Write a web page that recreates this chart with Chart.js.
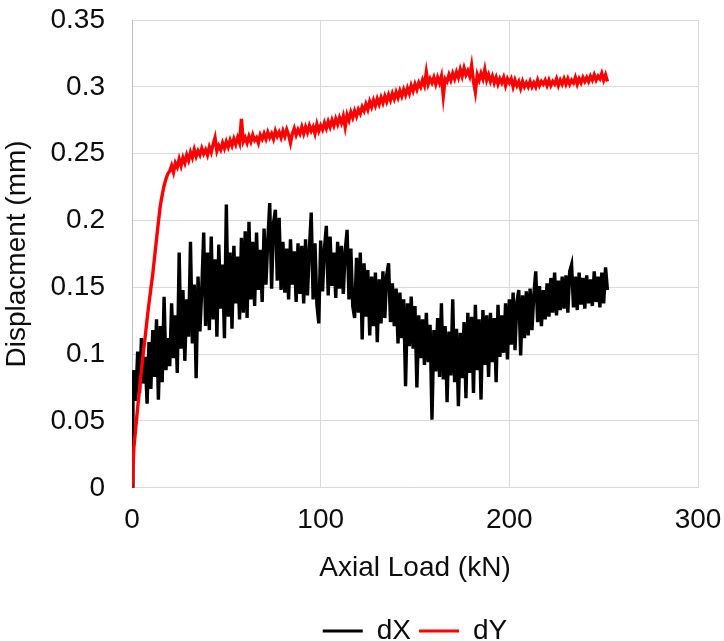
<!DOCTYPE html>
<html>
<head>
<meta charset="utf-8">
<script src="https://cdn.jsdelivr.net/npm/chart.js@4/dist/chart.umd.min.js"></script>
<style>
  html, body { margin: 0; padding: 0; background: #ffffff; }
  #wrap { position: relative; width: 724px; height: 641px; }
</style>
</head>
<body>
<div id="wrap"><canvas id="c" width="724" height="641"></canvas></div>
<script>
// ---- data ----
const seriesNames = ['dX', 'dY'];

const dXLoad = [0,0.5,
  1,2,3,4,5,6,7,8,9,10,11,12,13,14,15,16,17,18,19,20,
  21,22,23,24,25,26,27,28,29,30,31,32,33,34,35,36,37,38,39,40,
  41,42,43,44,45,46,47,48,49,50,51,52,53,54,55,56,57,58,59,60,
  61,62,63,64,65,66,67,68,69,70,71,72,73,74,75,76,77,78,79,80,
  81,82,83,84,85,86,87,88,89,90,91,92,93,94,95,96,97,98,99,100,
  101,102,103,104,105,106,107,108,109,110,111,112,113,114,115,116,117,118,119,120,
  121,122,123,124,125,126,127,128,129,130,131,132,133,134,135,136,137,138,139,140,
  141,142,143,144,145,146,147,148,149,150,151,152,153,154,155,156,157,158,159,160,
  161,162,163,164,165,166,167,168,169,170,171,172,173,174,175,176,177,178,179,180,
  181,182,183,184,185,186,187,188,189,190,191,192,193,194,195,196,197,198,199,200,
  201,202,203,204,205,206,207,208,209,210,211,212,213,214,215,216,217,218,219,220,
  221,222,223,224,225,226,227,228,229,230,231,232,233,234,235,236,237,238,239,240,
  241,242,243,244,245,246,247,248,249,250,251,252];

const dXValues = [0,0.075,
  0.088,0.065,0.102,0.071,0.112,0.078,0.098,0.063,0.109,
  0.074,0.118,0.083,0.126,0.066,0.121,0.079,0.143,0.088,0.112,
  0.091,0.138,0.097,0.129,0.086,0.176,0.104,0.148,0.095,0.141,
  0.113,0.184,0.108,0.152,0.082,0.158,0.117,0.149,0.191,0.121,
  0.176,0.118,0.188,0.126,0.171,0.113,0.182,0.134,0.167,0.112,
  0.212,0.128,0.176,0.119,0.181,0.138,0.173,0.126,0.187,0.131,
  0.192,0.127,0.199,0.141,0.184,0.136,0.191,0.148,0.178,0.139,
  0.194,0.152,0.186,0.213,0.149,0.198,0.208,0.155,0.202,0.148,
  0.184,0.146,0.179,0.141,0.186,0.152,0.177,0.139,0.183,0.145,
  0.181,0.138,0.186,0.144,0.178,0.206,0.141,0.183,0.137,0.123,
  0.185,0.147,0.179,0.196,0.144,0.188,0.151,0.176,0.142,0.184,
  0.149,0.181,0.145,0.177,0.193,0.141,0.179,0.136,0.127,0.172,
  0.131,0.176,0.111,0.168,0.128,0.163,0.114,0.158,0.121,0.161,
  0.109,0.156,0.123,0.162,0.127,0.159,0.168,0.124,0.153,0.121,
  0.149,0.108,0.146,0.112,0.141,0.076,0.138,0.106,0.143,0.104,
  0.136,0.075,0.129,0.097,0.126,0.092,0.131,0.094,0.122,0.051,
  0.118,0.087,0.127,0.083,0.138,0.081,0.121,0.064,0.117,0.084,
  0.141,0.079,0.119,0.061,0.116,0.082,0.124,0.067,0.131,0.086,
  0.128,0.071,0.137,0.088,0.126,0.066,0.133,0.092,0.129,0.083,
  0.131,0.094,0.127,0.079,0.137,0.098,0.129,0.101,0.138,0.096,
  0.141,0.107,0.146,0.103,0.139,0.148,0.099,0.144,0.112,0.147,
  0.114,0.149,0.118,0.145,0.162,0.124,0.151,0.121,0.148,0.126,
  0.153,0.128,0.157,0.131,0.161,0.129,0.155,0.133,0.158,0.134,
  0.159,0.131,0.162,0.167,0.135,0.158,0.133,0.161,0.137,0.157,
  0.134,0.159,0.138,0.156,0.136,0.162,0.139,0.158,0.135,0.161,0.138,0.165,0.148];

const dYLoad = [0,1,2,3,4,5,6,7,8,9,10,11,12,13,14,15,16,17,18,19,20,
  21,22,23,24,25,26,27,28,29,30,31,32,33,34,35,36,37,38,39,40,
  41,42,43,44,45,46,47,48,49,50,51,52,53,54,55,56,57,58,59,60,
  61,62,63,64,65,66,67,68,69,70,71,72,73,74,75,76,77,78,79,80,
  81,82,83,84,85,86,87,88,89,90,91,92,93,94,95,96,97,98,99,100,
  101,102,103,104,105,106,107,108,109,110,111,112,113,114,115,116,117,118,119,120,
  121,122,123,124,125,126,127,128,129,130,131,132,133,134,135,136,137,138,139,140,
  141,142,143,144,145,146,147,148,149,150,151,152,153,154,155,156,157,158,159,160,
  161,162,163,164,165,166,167,168,169,170,171,172,173,174,175,176,177,178,179,180,
  181,182,183,184,185,186,187,188,189,190,191,192,193,194,195,196,197,198,199,200,
  201,202,203,204,205,206,207,208,209,210,211,212,213,214,215,216,217,218,219,220,
  221,222,223,224,225,226,227,228,229,230,231,232,233,234,235,236,237,238,239,240,
  241,242,243,244,245,246,247,248,249,250,251,252];

const dYValues = [0,0.03,0.045,0.06,0.074,0.088,0.101,0.113,0.126,0.138,0.149,
  0.16,0.173,0.186,0.199,0.211,0.219,0.226,0.231,0.235,0.237,
  0.241,0.236,0.243,0.240,0.246,0.241,0.247,0.243,0.249,0.245,
  0.251,0.247,0.253,0.248,0.252,0.249,0.254,0.250,0.253,0.249,
  0.255,0.251,0.257,0.262,0.252,0.256,0.253,0.258,0.254,0.259,
  0.255,0.260,0.256,0.261,0.257,0.262,0.258,0.276,0.259,0.262,
  0.258,0.263,0.259,0.264,0.260,0.262,0.258,0.264,0.261,0.265,
  0.261,0.266,0.262,0.265,0.261,0.267,0.263,0.266,0.262,0.267,
  0.263,0.268,0.264,0.258,0.265,0.269,0.264,0.268,0.265,0.270,
  0.265,0.270,0.266,0.271,0.267,0.270,0.265,0.272,0.267,0.271,
  0.268,0.273,0.269,0.274,0.270,0.275,0.271,0.276,0.272,0.277,
  0.273,0.278,0.270,0.279,0.275,0.281,0.277,0.282,0.278,0.283,
  0.280,0.285,0.282,0.287,0.283,0.289,0.285,0.290,0.286,0.291,
  0.287,0.292,0.288,0.293,0.289,0.294,0.290,0.295,0.291,0.296,
  0.292,0.297,0.293,0.298,0.294,0.299,0.295,0.301,0.297,0.302,
  0.298,0.303,0.300,0.305,0.301,0.311,0.302,0.306,0.303,0.307,
  0.302,0.307,0.303,0.308,0.293,0.306,0.304,0.309,0.305,0.310,
  0.306,0.311,0.307,0.313,0.308,0.314,0.309,0.312,0.308,0.316,
  0.304,0.296,0.309,0.305,0.310,0.306,0.313,0.305,0.309,0.304,
  0.308,0.303,0.307,0.302,0.306,0.303,0.307,0.301,0.306,0.303,
  0.306,0.300,0.305,0.301,0.304,0.299,0.304,0.300,0.303,0.300,
  0.304,0.300,0.303,0.300,0.305,0.301,0.304,0.302,0.305,0.301,
  0.305,0.301,0.304,0.302,0.306,0.301,0.305,0.302,0.306,0.302,
  0.306,0.302,0.305,0.303,0.307,0.302,0.306,0.303,0.307,0.304,
  0.307,0.304,0.308,0.305,0.309,0.305,0.308,0.306,0.310,0.305,0.309,0.304];

const xTickValues = [0, 100, 200, 300];
const yTickLabels = ['0','0.05','0.1','0.15','0.2','0.25','0.3','0.35'];
const xTitle = 'Axial Load (kN)';
const yTitle = 'Displacment (mm)';

// ---- chart ----
const toPts = (xs, ys) => xs.map((x, i) => ({x: x, y: ys[i]}));
const FONT = "'Liberation Sans', Arial, sans-serif";
const TXT = '#0d0d0d';

new Chart(document.getElementById('c'), {
  type: 'line',
  data: {
    datasets: [
      { label: seriesNames[0], data: toPts(dXLoad, dXValues), borderColor: '#000000', backgroundColor: '#000000',
        borderWidth: 3.4, pointRadius: 0, tension: 0, order: 1 },
      { label: seriesNames[1], data: toPts(dYLoad, dYValues), borderColor: '#ff0000', backgroundColor: '#ff0000',
        borderWidth: 3.4, pointRadius: 0, tension: 0, order: 0 }
    ]
  },
  options: {
    responsive: false,
    animation: false,
    events: [],
    layout: { padding: { left: 0, right: 26, top: 20, bottom: -14 } },
    scales: {
      x: {
        type: 'linear', min: 0, max: 300,
        afterBuildTicks: s => { s.ticks = xTickValues.map(v => ({value: v})); },
        ticks: { padding: 16, color: TXT, font: { family: FONT, size: 28 }, maxRotation: 0 },
        grid: { color: '#d9d9d9', lineWidth: 1, drawTicks: false },
        border: { color: '#d9d9d9', width: 1 },
        title: { display: true, text: xTitle, color: TXT, font: { family: FONT, size: 28 }, padding: { top: -2, bottom: 24 } },
        afterFit: s => { s.paddingLeft = 0; s.paddingRight = 0; }
      },
      y: {
        type: 'linear', min: 0, max: 0.35,
        ticks: { stepSize: 0.05, padding: 27, color: TXT, font: { family: FONT, size: 28 },
                 callback: (v, i) => yTickLabels[i] },
        grid: { color: '#d9d9d9', lineWidth: 1, drawTicks: false },
        border: { color: '#bfbfbf', width: 1 },
        title: { display: true, text: yTitle, color: TXT, font: { family: FONT, size: 28 }, padding: { top: 0, bottom: 0 } },
        afterFit: s => { s.width = 132; s.paddingTop = 0; s.paddingBottom = 0; }
      }
    },
    plugins: {
      tooltip: { enabled: false },
      legend: {
        position: 'bottom',
        fullSize: false,
        labels: {
          color: TXT, font: { family: FONT, size: 28 }, boxWidth: 40, boxHeight: 3, padding: 8,
          sort: (a, b) => a.datasetIndex - b.datasetIndex,
          generateLabels: chart => Chart.defaults.plugins.legend.labels.generateLabels(chart).map(l => Object.assign(l, {lineWidth: 0}))
        }
      }
    }
  }
});
</script>
</body>
</html>
